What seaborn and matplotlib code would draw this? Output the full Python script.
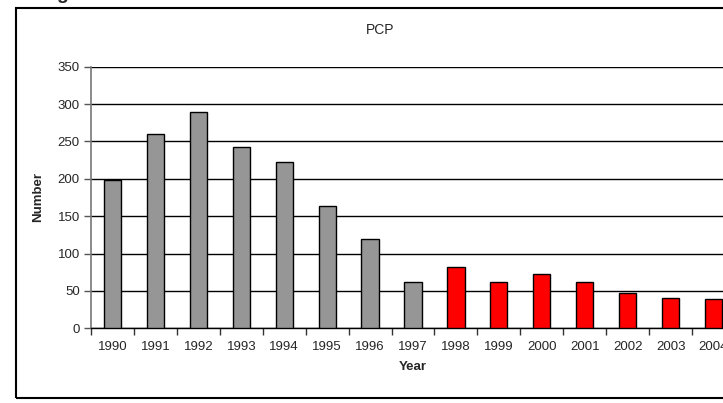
import matplotlib
matplotlib.use("Agg")
import matplotlib.pyplot as plt
import seaborn as sns
import pandas as pd
from matplotlib.patches import Rectangle

years = ["1990", "1991", "1992", "1993", "1994", "1995", "1996", "1997",
         "1998", "1999", "2000", "2001", "2002", "2003", "2004"]
values = [199, 260, 290, 243, 223, 163, 119, 62, 82, 62, 73, 62, 47, 40, 39]
colors = ["#969696"] * 8 + ["#FF0000"] * 7
y_ticks = [0, 50, 100, 150, 200, 250, 300, 350]
title = "PCP"
x_label = "Year"
y_label = "Number"

sns.set_theme(style="white")
plt.rcParams["font.family"] = ["Liberation Sans", "DejaVu Sans"]

W, H = 723, 403
fig = plt.figure(figsize=(W / 100, H / 100), dpi=100)
ax = fig.add_axes([91 / W, (H - 328.3) / H, 644 / W, (328.3 - 66.7) / H])

df = pd.DataFrame({"year": years, "value": values})
sns.barplot(data=df, x="year", y="value", hue="year", palette=colors,
            saturation=1, width=0.4, edgecolor="black", linewidth=1.0,
            legend=False, ax=ax, zorder=3)

ax.set_ylim(0, 350)
ax.set_xlim(-0.5, len(years) - 0.5)
ax.set_yticks(y_ticks)
ax.set_yticklabels([str(t) for t in y_ticks], fontsize=9.5)
ax.yaxis.grid(True, color="black", linewidth=1.0, zorder=0)
ax.set_axisbelow(True)
ax.tick_params(axis="y", direction="out", length=5, width=1, color="#555555",
               left=True, pad=3)
ax.set_xticks(range(len(years)))
ax.set_xticklabels(years, fontsize=9.5)
ax.tick_params(axis="x", which="major", length=0, pad=9)
ax.set_xticks([i - 0.5 for i in range(len(years) + 1)], minor=True)
ax.tick_params(axis="x", which="minor", direction="out", length=5, width=1,
               color="#333333", bottom=True)

for s in ["top", "right"]:
    ax.spines[s].set_visible(False)
ax.spines["left"].set_color("#777777")
ax.spines["left"].set_linewidth(1.2)
ax.spines["bottom"].set_color("black")
ax.spines["bottom"].set_linewidth(1.0)

ax.set_xlabel(x_label, fontsize=9.5, fontweight="bold", labelpad=6)
ax.set_ylabel(y_label, fontsize=9.5, fontweight="bold", labelpad=10)

fig.text(380 / W, 1 - 30 / H, title, ha="center", va="center", fontsize=10)

fig.patches.append(Rectangle((15.5 / W, 1 - 397.5 / H), 800 / W, 390 / H,
                             transform=fig.transFigure, fill=False,
                             edgecolor="black", linewidth=1.5))
fig.text(62 / W, 1 + 1 / H, "g", ha="center", va="baseline", fontsize=14,
         fontweight="bold")

fig.savefig("out.png", dpi=100)
